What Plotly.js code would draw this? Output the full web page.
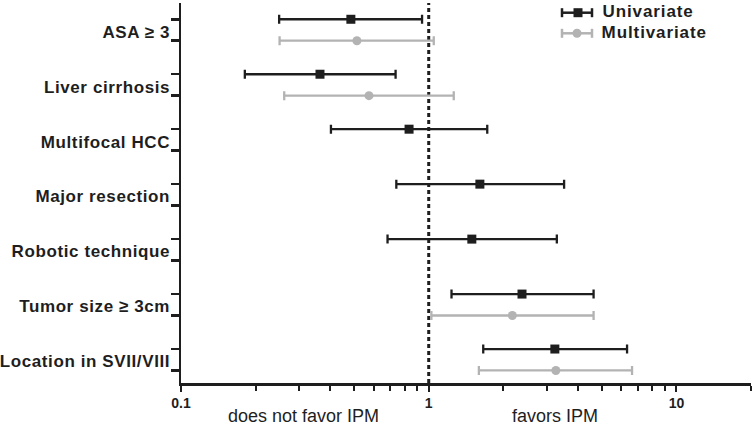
<!DOCTYPE html>
<html>
<head>
<meta charset="utf-8">
<script src="https://cdn.plot.ly/plotly-3.0.1.min.js"></script>
<style>
  html, body { margin: 0; padding: 0; background: #fff; }
  #chart { width: 752px; height: 426px; }
  .ytick text { letter-spacing: 0.6px; }
  g.annotation[data-index="0"] text, g.annotation[data-index="1"] text { letter-spacing: 0.9px; }
</style>
</head>
<body>
<div id="chart"></div>
<script>
// ---- data (odds ratios with 95% CI) ----
const categories = ['ASA \u2265 3', 'Liver cirrhosis', 'Multifocal HCC', 'Major resection',
                    'Robotic technique', 'Tumor size \u2265 3cm', 'Location in SVII/VIII'];
const uniOR   = [0.485, 0.364, 0.833, 1.609, 1.493, 2.38, 3.23];
const uniLo   = [0.249, 0.181, 0.403, 0.740, 0.682, 1.236, 1.66];
const uniHi   = [0.94, 0.735, 1.723, 3.52, 3.29, 4.63, 6.32];
const multiOR = [0.513, 0.574, null, null, null, 2.176, 3.26];
const multiLo = [0.25, 0.261, null, null, null, 1.025, 1.594];
const multiHi = [1.048, 1.262, null, null, null, 4.63, 6.62];
const seriesNames = ['Univariate', 'Multivariate'];
const xTickVals = [0.1, 1, 10];
const xTickText = ['0.1', '1', '10'];
const refOR = 1;
const sideLabels = ['does not favor IPM', 'favors IPM'];

// ---- styling ----
const BLACK = '#1e1e1e', GRAY = '#b3b3b3';
const FONT = 'Liberation Sans, Arial, Helvetica, sans-serif';
const ROW_OFF = 0.39;           // offset of multivariate row within a category
const Y_RANGE = [6.618, -0.296];
const M = {l: 181, r: 1, t: 3, b: 43};
const W = 752, H = 426;
const PW = W - M.l - M.r, PH = H - M.t - M.b;
const px = x => (x - M.l) / PW;
const py = y => (H - M.b - y) / PH;

const yUni = categories.map((c, i) => i);
const yMulti = categories.map((c, i) => i + ROW_OFF);

function errs(or, lo, hi) {
  return {
    plus: or.map((v, i) => v == null ? null : hi[i] - v),
    minus: or.map((v, i) => v == null ? null : v - lo[i])
  };
}
const eU = errs(uniOR, uniLo, uniHi);
const eM = errs(multiOR, multiLo, multiHi);

const traces = [
  {
    type: 'scatter', mode: 'lines', x: [refOR, refOR], y: Y_RANGE,
    line: {color: BLACK, width: 3, dash: '4px,3px'}, hoverinfo: 'skip'
  },
  {
    type: 'scatter', mode: 'markers', name: seriesNames[1],
    x: multiOR, y: yMulti,
    marker: {symbol: 'circle', size: 9, color: GRAY},
    error_x: {type: 'data', symmetric: false, array: eM.plus, arrayminus: eM.minus,
              color: GRAY, thickness: 2.3, width: 4.5}
  },
  {
    type: 'scatter', mode: 'markers', name: seriesNames[0],
    x: uniOR, y: yUni,
    marker: {symbol: 'square', size: 9, color: BLACK},
    error_x: {type: 'data', symmetric: false, array: eU.plus, arrayminus: eU.minus,
              color: BLACK, thickness: 2.3, width: 4.5}
  }
];

// minor tick positions on the log axis
const minorX = [];
[0.1, 1, 10].forEach(d => { for (let k = 2; k <= 9; k++) { if (k * d <= 20) minorX.push(k * d); } });

// legend drawn with shapes + annotations
const legendRows = [
  {name: seriesNames[0], color: BLACK, y: 12.7, sym: 'rect', cx: 578},
  {name: seriesNames[1], color: GRAY, y: 33.3, sym: 'circle', cx: 577}
];
const shapes = [];
const annotations = [];
legendRows.forEach(r => {
  shapes.push({type: 'line', xref: 'paper', yref: 'paper', x0: px(562), x1: px(592), y0: py(r.y), y1: py(r.y),
               line: {color: r.color, width: 2.5}});
  [562, 592].forEach(cx => shapes.push({type: 'line', xref: 'paper', yref: 'paper',
               x0: px(cx), x1: px(cx), y0: py(r.y - 4.5), y1: py(r.y + 4.5), line: {color: r.color, width: 2.5}}));
  shapes.push({type: r.sym, xref: 'paper', yref: 'paper', x0: px(r.cx - 4.5), x1: px(r.cx + 4.5),
               y0: py(r.y - 4.5), y1: py(r.y + 4.5), fillcolor: r.color, line: {width: 0}});
  annotations.push({xref: 'paper', yref: 'paper', x: px(606), y: py(r.y - 1), xanchor: 'left', yanchor: 'middle',
               text: r.name, showarrow: false, font: {family: FONT, size: 17, color: BLACK, weight: 'bold'},
               borderpad: 0, captureevents: false});
});
annotations.push({xref: 'paper', yref: 'paper', x: px(303), y: py(416), xanchor: 'center', yanchor: 'middle',
  text: sideLabels[0], showarrow: false, font: {family: FONT, size: 18, color: BLACK}});
annotations.push({xref: 'paper', yref: 'paper', x: px(555), y: py(416), xanchor: 'center', yanchor: 'middle',
  text: sideLabels[1], showarrow: false, font: {family: FONT, size: 18, color: BLACK}});

const layout = {
  width: W, height: H, margin: M,
  paper_bgcolor: '#fff', plot_bgcolor: '#fff',
  showlegend: false,
  xaxis: {
    type: 'log', range: [-1, Math.log10(20)],
    showline: true, linewidth: 2.5, linecolor: BLACK, mirror: false,
    showgrid: false, zeroline: false,
    tickmode: 'array', tickvals: xTickVals, ticktext: xTickText,
    ticks: 'outside', ticklen: 6, tickwidth: 2, tickcolor: BLACK,
    tickfont: {family: FONT, size: 14, color: BLACK, weight: 'bold'},
    minor: {tickmode: 'array', tickvals: minorX, ticks: 'outside', ticklen: 5, tickwidth: 2,
            tickcolor: BLACK, showgrid: false}
  },
  yaxis: {
    range: Y_RANGE,
    showline: true, linewidth: 2.5, linecolor: BLACK,
    showgrid: false, zeroline: false,
    tickmode: 'array', tickvals: yUni.map(v => v + ROW_OFF / 2 + 0.03), ticktext: categories,
    ticks: 'outside', ticklen: 5, tickwidth: 1, tickcolor: 'rgba(0,0,0,0)',
    tickfont: {family: FONT, size: 17, color: BLACK, weight: 'bold'},
    minor: {tickmode: 'array', tickvals: yUni.concat(yMulti), ticks: 'outside', ticklen: 8, tickwidth: 2.5,
            tickcolor: BLACK, showgrid: false}
  },
  shapes: shapes,
  annotations: annotations
};

Plotly.newPlot('chart', traces, layout, {displayModeBar: false, staticPlot: true});
</script>
</body>
</html>
